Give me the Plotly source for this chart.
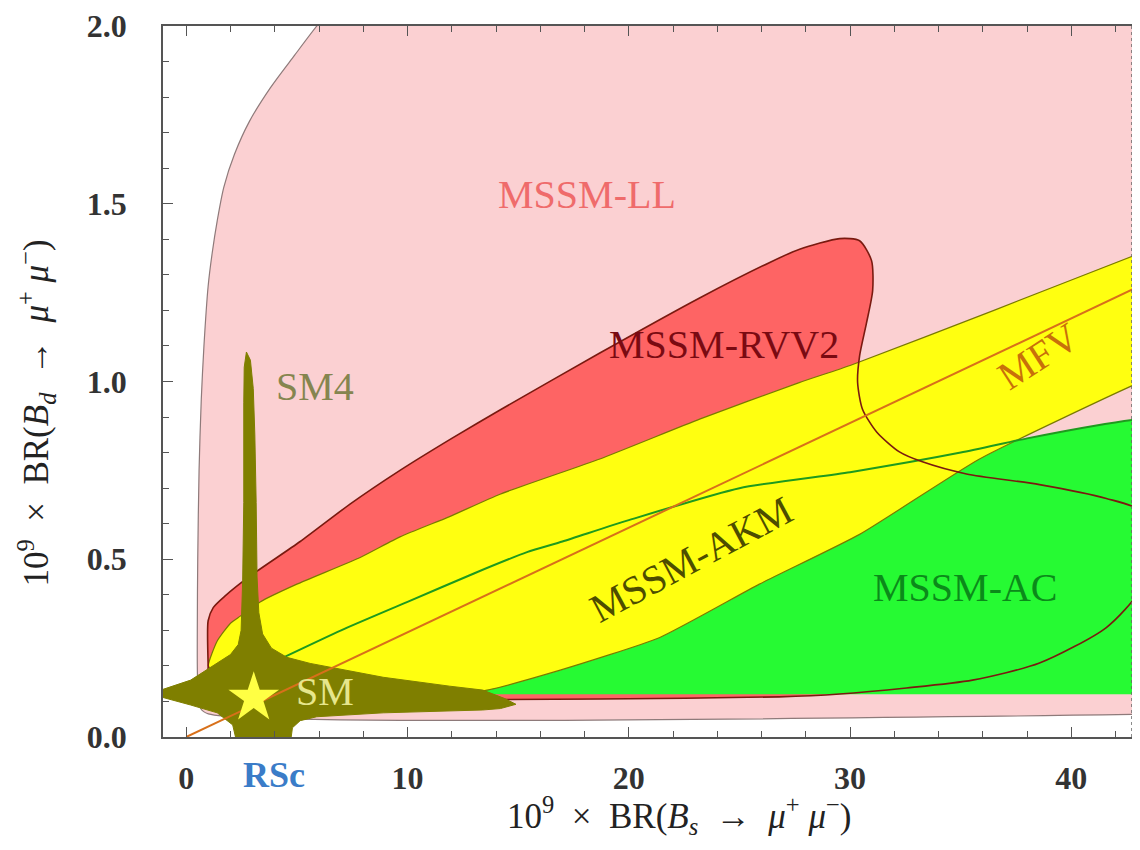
import plotly.graph_objects as go

# ---------------- data ----------------
# MSSM-LL region (pink)
ll_x = [44.5, 1.0, 0.65, 0.52, 0.50, 0.52, 0.58, 0.68, 0.80, 0.99, 1.17, 1.40, 1.70, 2.18, 2.85,
        3.80, 4.90, 5.90, 6.7, 8.0, 44.5]
ll_y = [0.065, 0.065, 0.08, 0.15, 0.30, 0.50, 0.75, 0.95, 1.10, 1.268, 1.360, 1.452, 1.547, 1.639,
        1.731, 1.826, 1.918, 2.00, 2.06, 2.14, 2.14]

# MSSM-RVV2 region (red) outline
rvv2_x = [0.99, 0.99, 0.99, 1.22, 1.76, 2.89, 5.15, 7.40, 9.66, 12.0, 14.18, 18.69, 23.2, 26.37, 27.72,
          29.53, 30.43, 30.97, 31.02, 30.74, 30.43, 30.34, 30.56, 31.2, 32.23, 33.27, 35.26, 38.56,
          41.58, 43.07, 43.45, 43.07, 41.58, 38.56, 35.53, 32.55, 29.53, 26.8, 18.7, 9.66, 0.99]
rvv2_y = [0.105, 0.196, 0.327, 0.364, 0.397, 0.453, 0.55, 0.655, 0.75, 0.84, 0.92, 1.08, 1.235, 1.335,
          1.372, 1.402, 1.396, 1.340, 1.256, 1.164, 1.072, 0.997, 0.922, 0.858, 0.802, 0.774, 0.740,
          0.710, 0.671, 0.637, 0.523, 0.411, 0.308, 0.208, 0.160, 0.138, 0.121, 0.113, 0.107, 0.104, 0.105]

# MSSM-AKM band (yellow): upper edge left->right, lower edge right->left
akm_x = [1.0, 1.4, 2.0, 2.44, 3.34, 5.0, 7.86, 9.66, 11.9, 14.18, 18.69, 23.2, 27.7, 30.0, 36.5, 43.07, 44.5,
         44.5, 43.07, 35.85, 30.43, 25.9, 21.4, 16.9, 13.4, 10.0, 7.4, 4.0, 2.0, 1.3, 1.0]
akm_y = [0.20, 0.27, 0.32, 0.34, 0.38, 0.43, 0.505, 0.563, 0.62, 0.683, 0.782, 0.894, 0.997, 1.045, 1.20, 1.36, 1.39,
         1.03, 0.997, 0.782, 0.570, 0.430, 0.280, 0.188, 0.130, 0.135, 0.145, 0.160, 0.170, 0.180, 0.20]

# MSSM-AC region (green): upper edge, then lower edge
ac_top_x = [4.4, 7.0, 10.0, 13.0, 15.4, 17.0, 20.0, 25.0, 30.0, 35.0, 38.0, 41.0, 43.07, 44.5]
ac_top_y = [0.224, 0.30, 0.38, 0.46, 0.52, 0.55, 0.61, 0.70, 0.745, 0.80, 0.84, 0.875, 0.894, 0.90]
ac_bottom_x = [44.5, 4.4]
ac_bottom_y = [0.12, 0.12]

# MFV line
mfv_x = [0.0, 44.5]
mfv_y = [0.0, 1.31]

# SM / SM4 region (olive)
sm_x = [2.72, 2.90, 3.03, 3.10, 3.16, 3.20, 3.28, 3.45, 3.85, 4.55, 5.6, 7.4, 8.9, 11.9, 13.4, 14.4, 14.9,
        14.2, 13.4, 8.9, 5.9, 5.15, 4.8, 4.7, 2.3, 2.1, 1.4, 0.2, -1.1, -1.4, -1.1, 0.2, 1.1, 2.0, 2.35,
        2.48, 2.55, 2.60, 2.60, 2.62, 2.72]
sm_y = [1.083, 1.06, 0.98, 0.85, 0.66, 0.45, 0.35, 0.29, 0.25, 0.224, 0.207, 0.186, 0.168, 0.143, 0.132,
        0.108, 0.092, 0.080, 0.076, 0.068, 0.057, 0.046, 0.026, -0.02, -0.02, 0.034, 0.068, 0.090, 0.112,
        0.122, 0.133, 0.160, 0.196, 0.232, 0.26, 0.30, 0.44, 0.66, 0.94, 1.04, 1.083]

# SM point
sm_point_x = [3.05]
sm_point_y = [0.11]

x_ticks = [0, 10, 20, 30, 40]
y_ticks = [0.0, 0.5, 1.0, 1.5, 2.0]
y_ticktext = ["0.0", "0.5", "1.0", "1.5", "2.0"]

labels = [
    # text, x, y, colour, angle
    ("MSSM-LL", 18.1, 1.525, "#EF6B6B", 0),
    ("MSSM-RVV2", 24.3, 1.105, "#7A0A12", 0),
    ("SM4", 5.8, 0.985, "#85854F", 0),
    ("MFV", 38.5, 1.07, "#C8700A", -33),
    ("MSSM-AKM", 22.8, 0.50, "#4D4D00", -28),
    ("MSSM-AC", 35.2, 0.42, "#0B8A1A", 0),
    ("SM", 6.28, 0.128, "#E6E68C", 0),
]

SERIF = "Liberation Serif, DejaVu Serif, serif"
NB = "\u00a0"

fig = go.Figure()

# MSSM-LL
fig.add_trace(go.Scatter(x=ll_x, y=ll_y, fill="toself", fillcolor="#FBD0D2",
                         line=dict(color="#8E7A7A", width=1.2, shape="spline", smoothing=0.8),
                         mode="lines", hoverinfo="skip", showlegend=False))
# MSSM-RVV2 fill
fig.add_trace(go.Scatter(x=rvv2_x, y=rvv2_y, fill="toself", fillcolor="#FE6464",
                         line=dict(color="rgba(0,0,0,0)", width=0, shape="spline", smoothing=0.7),
                         mode="lines", hoverinfo="skip", showlegend=False))
# MSSM-AC fill
fig.add_trace(go.Scatter(x=ac_top_x + ac_bottom_x, y=ac_top_y + ac_bottom_y, fill="toself",
                         fillcolor="#26FA33", line=dict(color="rgba(0,0,0,0)", width=0),
                         mode="lines", hoverinfo="skip", showlegend=False))
# MSSM-AKM fill
fig.add_trace(go.Scatter(x=akm_x, y=akm_y, fill="toself", fillcolor="#FFFF10",
                         line=dict(color="#7A7A00", width=1.2, shape="spline", smoothing=0.5),
                         mode="lines", hoverinfo="skip", showlegend=False))
# MSSM-AC boundary line
fig.add_trace(go.Scatter(x=ac_top_x, y=ac_top_y, mode="lines",
                         line=dict(color="#1E9A1E", width=2, shape="spline", smoothing=0.6),
                         hoverinfo="skip", showlegend=False))
# MSSM-RVV2 outline
fig.add_trace(go.Scatter(x=rvv2_x, y=rvv2_y, mode="lines",
                         line=dict(color="#7A1A10", width=1.6, shape="spline", smoothing=0.7),
                         hoverinfo="skip", showlegend=False))
# SM / SM4
fig.add_trace(go.Scatter(x=sm_x, y=sm_y, fill="toself", fillcolor="#7F7F00",
                         line=dict(color="#7F7F00", width=1),
                         mode="lines", hoverinfo="skip", showlegend=False))
# MFV line
fig.add_trace(go.Scatter(x=mfv_x, y=mfv_y, mode="lines",
                         line=dict(color="#D8701A", width=2),
                         hoverinfo="skip", showlegend=False))
# SM star
fig.add_trace(go.Scatter(x=sm_point_x, y=sm_point_y, mode="markers",
                         marker=dict(symbol="star", size=38, color="#FFFF44", line=dict(width=0)),
                         hoverinfo="skip", showlegend=False))

for text, lx, ly, col, ang in labels:
    fig.add_annotation(x=lx, y=ly, xref="x", yref="y", text=text, showarrow=False,
                       textangle=ang, font=dict(family=SERIF, size=40, color=col))

# RSc label under the axis
fig.add_annotation(x=3.95, y=-0.053, xref="x", yref="paper", text="<b>RSc</b>", showarrow=False,
                   xanchor="center", yanchor="middle", font=dict(family=SERIF, size=36, color="#3A7CC8"))

# axis titles
title_x = ("10<sup>9</sup>" + NB * 2 + "×" + NB * 2 + "BR(<i>B<sub>s</sub></i>" + NB * 2 + "→" + NB * 2 +
           "<i>μ</i><sup>+</sup>" + NB + "<i>μ</i><sup>−</sup>)")
title_y = ("10<sup>9</sup>" + NB * 2 + "×" + NB * 2 + "BR(<i>B<sub>d</sub></i>" + NB * 2 + "→" + NB * 2 +
           "<i>μ</i><sup>+</sup>" + NB + "<i>μ</i><sup>−</sup>)")
fig.add_annotation(x=0.533, y=-0.11, xref="paper", yref="paper", showarrow=False,
                   xanchor="center", yanchor="middle", text=title_x,
                   font=dict(family=SERIF, size=35, color="#222"))
fig.add_annotation(x=-0.131, y=0.455, xref="paper", yref="paper", showarrow=False, textangle=-90,
                   xanchor="center", yanchor="middle", text=title_y,
                   font=dict(family=SERIF, size=35, color="#222"))

# dashed right frame
fig.add_shape(type="line", xref="paper", yref="paper", x0=1, x1=1, y0=0, y1=1,
              line=dict(color="#666", width=1.5, dash="dot"))

axis_common = dict(showgrid=False, zeroline=False, showline=True, linecolor="#555", linewidth=1.5,
                   ticks="inside", tickcolor="#555", tickwidth=1.2, ticklen=10, ticklabeloverflow="allow",
                   tickfont=dict(family=SERIF, size=32, color="#333", weight="bold"))

fig.update_xaxes(range=[-1.05, 42.74], tickvals=x_ticks, mirror="ticks", ticklabelstandoff=12,
                 minor=dict(dtick=2, tick0=0, ticks="inside", ticklen=6, tickcolor="#555", showgrid=False),
                 **axis_common)
fig.update_yaxes(range=[0, 2], tickvals=y_ticks, ticktext=y_ticktext, ticklabelstandoff=28,
                 minor=dict(dtick=0.1, tick0=0, ticks="inside", ticklen=6, tickcolor="#555", showgrid=False),
                 **axis_common)

# figure sized to fit inside the page's default 8px body margin (no scrollbars)
fig.update_layout(width=1124, height=834, margin=dict(l=155, r=0, t=12, b=105),
                  plot_bgcolor="white", paper_bgcolor="white")

fig.write_html("out.html")
